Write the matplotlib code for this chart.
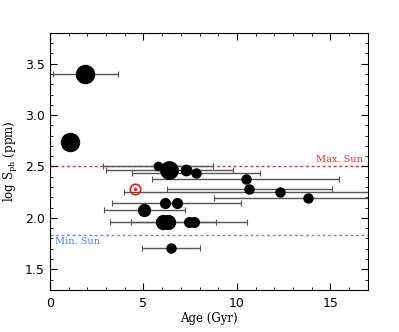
import matplotlib
matplotlib.use("Agg")
import matplotlib.pyplot as plt
import numpy as np
from matplotlib.ticker import MultipleLocator

# stars: age (Gyr), age error, log S_ph, marker size (pt)
age = [1.90, 1.06, 5.78, 6.38, 7.27, 7.80, 10.46, 10.67, 12.29, 13.80,
       6.17, 6.77, 5.05, 6.05, 6.30, 7.45, 7.71, 6.47]
age_err = [1.73, 0.0, 2.94, 3.40, 0.0, 3.43, 5.00, 4.43, 8.31, 5.02,
           0.0, 3.46, 2.15, 2.85, 0.0, 3.10, 0.0, 1.55]
logs = [3.40, 2.74, 2.50, 2.47, 2.47, 2.44, 2.38, 2.28, 2.255, 2.196,
        2.147, 2.147, 2.073, 1.96, 1.96, 1.96, 1.96, 1.71]
msize = [13, 13, 6, 12.5, 7.5, 6.5, 6.5, 6.5, 6.5, 6.5,
         7, 7, 8.5, 10, 10, 7, 7, 6.5]

sun_age = 4.57
sun_logs = 2.28
max_sun = 2.50
min_sun = 1.83

plt.rcParams['font.family'] = ['DejaVu Serif']
fig = plt.figure(figsize=(3.99, 3.32), dpi=100)
ax = fig.add_axes([0.125, 0.127, 0.797, 0.774])

for i in range(len(age)):
    if age_err[i] > 0:
        lo = min(age_err[i], age[i])
        ax.errorbar(age[i], logs[i], xerr=[[lo], [age_err[i]]], fmt='none',
                    ecolor='#555555', elinewidth=1.0, capsize=2.5, capthick=0.8, zorder=2)
for i in range(len(age)):
    ax.plot(age[i], logs[i], 'o', color='black', markersize=msize[i], zorder=3)

ax.axhline(max_sun, color='#e03030', ls=(0, (2, 2)), lw=1.0, zorder=1)
ax.axhline(min_sun, color='#6688ee', ls=(0, (2, 2)), lw=1.0, zorder=1)
ax.text(16.75, max_sun + 0.02, 'Max. Sun', color='#e03030', ha='right', va='bottom', fontsize=7)
ax.text(0.3, min_sun - 0.02, 'Min. Sun', color='#5577ee', ha='left', va='top', fontsize=7)

ax.plot(sun_age, sun_logs, 'o', mfc='none', mec='#e02020', markersize=7.5, mew=1.2, zorder=4)
ax.plot(sun_age, sun_logs, 'o', color='#e02020', markersize=1.5, zorder=4)

ax.set_xlim(0, 17)
ax.set_ylim(1.3, 3.8)
ax.xaxis.set_major_locator(MultipleLocator(5))
ax.xaxis.set_minor_locator(MultipleLocator(1))
ax.yaxis.set_major_locator(MultipleLocator(0.5))
ax.yaxis.set_minor_locator(MultipleLocator(0.1))
ax.yaxis.set_major_formatter(matplotlib.ticker.FormatStrFormatter('%.1f'))
ax.tick_params(which='both', direction='in', top=True, right=True)
ax.tick_params(which='major', length=5)
ax.tick_params(which='minor', length=2.5)
ax.tick_params(axis='x', which='major', pad=5)
for lab in ax.get_xticklabels() + ax.get_yticklabels():
    lab.set_family('DejaVu Sans')
    lab.set_fontsize(9)

ax.set_xlabel('Age (Gyr)', fontsize=8.5, labelpad=1.5)
ax.set_ylabel(r'log S$_\mathregular{ph}$ (ppm)', fontsize=8.5)

fig.savefig('out.png', dpi=100)
